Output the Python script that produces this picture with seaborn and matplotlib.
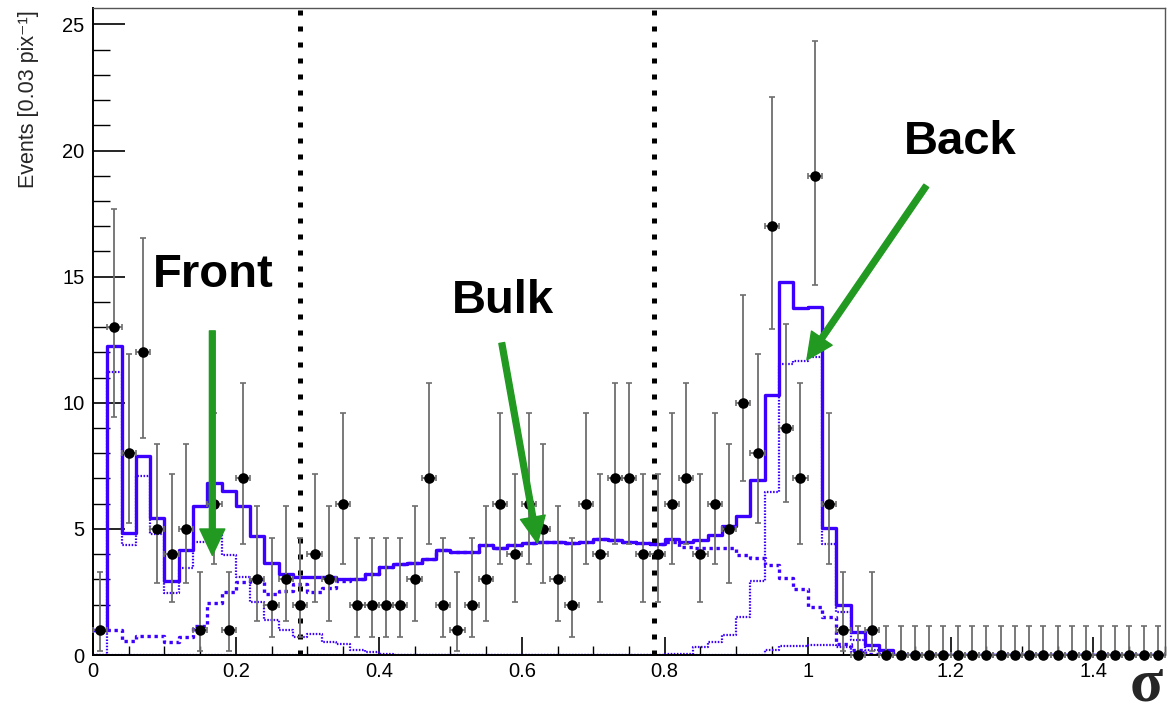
import numpy as np
import pandas as pd
import matplotlib
matplotlib.use("Agg")
import matplotlib.pyplot as plt
import seaborn as sns

# ---------------------------------------------------------------- data
bin_width = 0.02
n_bins = 75

# observed event counts per bin (bin centres 0.01, 0.03, ..., 1.49)
counts = [1, 13, 8, 12, 5, 4, 5, 1, 6, 1,
          7, 3, 2, 3, 2, 4, 3, 6, 2, 2,
          2, 2, 3, 7, 2, 1, 2, 3, 6, 4,
          6, 5, 3, 2, 6, 4, 7, 7, 4, 4,
          6, 7, 4, 6, 5, 10, 8, 17, 9, 7,
          19, 6, 1, 0, 1, 0, 0, 0, 0, 0,
          0, 0, 0, 0, 0, 0, 0, 0, 0, 0,
          0, 0, 0, 0, 0]

# total fitted model
total_fit = [1.0, 12.25, 4.85, 7.9, 5.45, 2.95, 4.15, 5.9, 6.8, 6.5,
             5.9, 4.7, 3.65, 3.2, 3.1, 3.1, 3.1, 3.0, 3.0, 3.2,
             3.5, 3.6, 3.65, 3.8, 4.15, 4.1, 4.1, 4.35, 4.25, 4.35,
             4.45, 4.5, 4.5, 4.45, 4.5, 4.6, 4.55, 4.5, 4.45, 4.4,
             4.6, 4.5, 4.55, 4.75, 5.1, 5.5, 6.95, 10.3, 14.8, 13.75,
             13.8, 5.05, 2.0, 0.9, 0.4, 0.2, 0, 0, 0, 0,
             0, 0, 0, 0, 0, 0, 0, 0, 0, 0,
             0, 0, 0, 0, 0]

# front-surface component
front = [0.0, 11.2, 4.35, 7.1, 4.8, 2.45, 3.45, 4.5, 4.8, 3.95,
         3.1, 2.1, 1.4, 1.0, 0.7, 0.85, 0.5, 0.45, 0.2, 0.1,
         0.05, 0, 0, 0, 0, 0, 0, 0, 0, 0,
         0, 0, 0, 0, 0, 0, 0, 0, 0, 0,
         0, 0, 0, 0, 0, 0, 0, 0.2, 0.35, 0.35,
         0.4, 0.4, 0.3, 0.1, 0, 0, 0, 0, 0, 0,
         0, 0, 0, 0, 0, 0, 0, 0, 0, 0,
         0, 0, 0, 0, 0]

# bulk component
bulk = [1.0, 1.0, 0.55, 0.75, 0.75, 0.5, 0.7, 1.15, 2.05, 2.5,
        2.9, 3.0, 2.4, 2.55, 2.8, 2.5, 2.65, 2.95, 3.0, 3.2,
        3.5, 3.6, 3.65, 3.8, 4.15, 4.1, 4.1, 4.35, 4.25, 4.35,
        4.45, 4.5, 4.5, 4.45, 4.5, 4.6, 4.55, 4.5, 4.45, 4.4,
        4.5, 4.3, 4.25, 4.25, 4.25, 3.95, 3.85, 3.55, 3.05, 2.6,
        1.9, 1.5, 0.45, 0.2, 0.05, 0, 0, 0, 0, 0,
        0, 0, 0, 0, 0, 0, 0, 0, 0, 0,
        0, 0, 0, 0, 0]

# back-surface component
back = [0, 0, 0, 0, 0, 0, 0, 0, 0, 0,
        0, 0, 0, 0, 0, 0, 0, 0, 0, 0,
        0, 0, 0, 0, 0, 0, 0, 0, 0, 0,
        0, 0, 0, 0, 0, 0, 0, 0, 0, 0,
        0.05, 0.05, 0.3, 0.5, 0.8, 1.5, 2.95, 6.45, 11.55, 11.65,
        11.8, 4.4, 1.7, 0.6, 0.2, 0.05, 0, 0, 0, 0,
        0, 0, 0, 0, 0, 0, 0, 0, 0, 0,
        0, 0, 0, 0, 0]

# 68% Poisson confidence bounds for each observed count
poisson_low = {0: 0.0, 1: 0.173, 2: 0.708, 3: 1.367, 4: 2.086, 5: 2.840,
               6: 3.620, 7: 4.419, 8: 5.232, 9: 6.057, 10: 6.891,
               12: 8.585, 13: 9.441, 17: 12.91, 19: 14.68}
poisson_high = {0: 1.15, 1: 3.300, 2: 4.638, 3: 5.918, 4: 7.163, 5: 8.382,
                6: 9.584, 7: 10.77, 8: 11.95, 9: 13.11, 10: 14.27,
                12: 16.54, 13: 17.67, 17: 22.13, 19: 24.33}

region_cuts = [0.29, 0.785]

x_ticks = [0, 0.2, 0.4, 0.6, 0.8, 1.0, 1.2, 1.4]
x_tick_labels = ["0", "0.2", "0.4", "0.6", "0.8", "1", "1.2", "1.4"]
y_ticks = [0, 5, 10, 15, 20, 25]
y_tick_labels = ["0", "5", "10", "15", "20", "25"]

# ---------------------------------------------------------------- frame
centers = (np.arange(n_bins) + 0.5) * bin_width
x_range = (0.0, n_bins * bin_width)

df = pd.DataFrame({
    "sigma": centers,
    "counts": counts,
    "total": total_fit,
    "front": front,
    "bulk": bulk,
    "back": back,
})
df["err_lo"] = [c - poisson_low[c] for c in counts]
df["err_hi"] = [poisson_high[c] - c for c in counts]

sns.set_theme(style="white")
plt.rcParams["font.family"] = ["Liberation Sans", "DejaVu Sans"]

fig = plt.figure(figsize=(11.68, 7.15), dpi=100)
ax = fig.add_axes([0.0796, 0.0839, 0.9178, 0.9049])

blue = "#3c00ff"
green = "#229a22"

hist_kw = dict(data=df, x="sigma", binwidth=bin_width, binrange=x_range,
               element="step", fill=False, color=blue, ax=ax)

# component templates
sns.histplot(weights="front", linewidth=1.6, linestyle=(0, (0.7, 0.7)),
             zorder=2, **hist_kw)
sns.histplot(weights="back", linewidth=1.6, linestyle=(0, (0.7, 0.7)),
             zorder=2, **hist_kw)
sns.histplot(weights="bulk", linewidth=2.4, linestyle=(0, (1, 1.1)),
             zorder=2, **hist_kw)
# total model
sns.histplot(weights="total", linewidth=2.4, zorder=3, **hist_kw)

# region boundaries
for xc in region_cuts:
    ax.axvline(xc, color="black", linewidth=3.6, linestyle=(0, (1, 2.2)),
               zorder=2.5)

# data with asymmetric Poisson errors
ax.errorbar(df["sigma"], df["counts"], xerr=bin_width / 2,
            yerr=[df["err_lo"], df["err_hi"]], fmt="none", ecolor="#6e6e6e",
            elinewidth=1.3, capsize=2.4, capthick=1.2, zorder=4, clip_on=False)
sns.scatterplot(data=df, x="sigma", y="counts", color="black", s=58,
                linewidth=0, zorder=5, ax=ax, clip_on=False)

# region annotations
label_kw = dict(fontsize=34, fontweight="bold", ha="center", va="baseline",
                color="black", zorder=6)
ax.text(0.168, 14.6, "Front", **label_kw)
ax.text(0.573, 13.57, "Bulk", **label_kw)
ax.text(1.213, 19.88, "Back", **label_kw)

arrow_kw = dict(facecolor=green, edgecolor=green, width=4.2, headwidth=18,
                headlength=19, shrink=0)
ax.annotate("", xy=(0.167, 3.95), xytext=(0.167, 12.85),
            arrowprops=arrow_kw, zorder=6)
ax.annotate("", xy=(0.622, 4.43), xytext=(0.572, 12.37),
            arrowprops=arrow_kw, zorder=6)
ax.annotate("", xy=(0.999, 11.7), xytext=(1.166, 18.6),
            arrowprops=arrow_kw, zorder=6)

# axes styling
ax.set_xlim(0, 1.5)
ax.set_ylim(0, 25.65)
ax.set_xticks(x_ticks)
ax.set_xticklabels(x_tick_labels)
ax.set_yticks(y_ticks)
ax.set_yticklabels(y_tick_labels)
ax.set_xticks(np.arange(0, 1.5001, 0.05), minor=True)
ax.set_yticks(np.arange(0, 25.5, 1), minor=True)
ax.tick_params(axis="both", which="both", direction="in", colors="black",
               labelsize=14.5, bottom=True, left=True, top=False, right=False)
ax.tick_params(axis="x", which="major", length=13, width=1.2, pad=5)
ax.tick_params(axis="x", which="minor", length=6.5, width=1.0)
ax.tick_params(axis="y", which="major", length=23, width=1.2, pad=6)
ax.tick_params(axis="y", which="minor", length=12, width=1.0)

for side in ["left", "bottom"]:
    ax.spines[side].set_color("black")
    ax.spines[side].set_linewidth(1.4)
for side in ["top", "right"]:
    ax.spines[side].set_color("#555555")
    ax.spines[side].set_linewidth(1.0)

ax.set_xlabel("")
ax.set_ylabel("")
fig.text(0.024, 0.985, "Events [0.03 pix⁻¹]", rotation=90, ha="center",
         va="top", fontsize=15.5)
fig.text(0.996, 0.002, "σ", ha="right", va="bottom", fontsize=44,
         fontweight="bold", family=["Liberation Serif", "DejaVu Serif"])

fig.savefig("out.png", dpi=100)
